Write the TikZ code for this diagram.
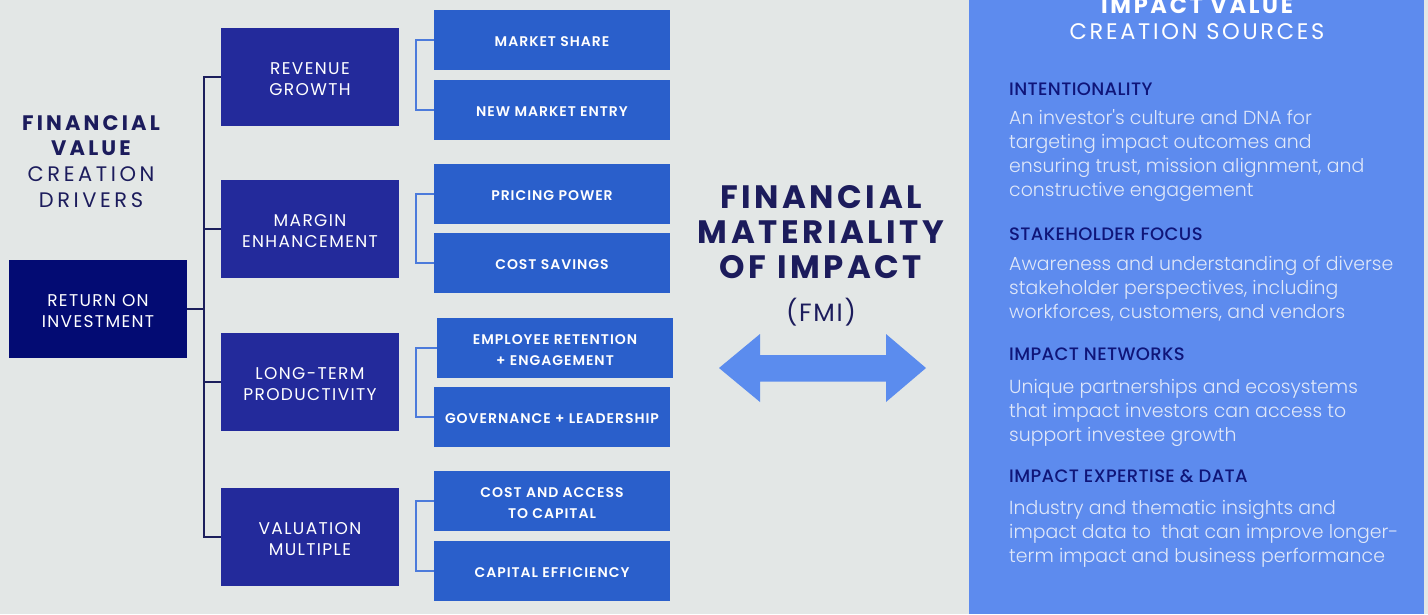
\documentclass[tikz,border=0pt]{standalone}
\usepackage{fontspec}
\usetikzlibrary{calc}
\setmainfont{Poppins}
\newcommand\pickfont[3]{\IfFontExistsTF{#2}{\newfontfamily#1{#2}[#3]}{\newfontfamily#1{Poppins}[#3]}}
\pickfont\fLight{Poppins Light}{LetterSpace=0}
\pickfont\fMed{Poppins Medium}{LetterSpace=2}
\pickfont\fSemi{Poppins SemiBold}{LetterSpace=7}
\newfontfamily\fTB{Poppins}[LetterSpace=15]
\newfontfamily\fTR{Poppins}[LetterSpace=17]
\newfontfamily\fBoxR{Poppins}[LetterSpace=8]
\newfontfamily\fHdr{Poppins}[LetterSpace=12]
\newfontfamily\fFmi{Poppins}[LetterSpace=11]
\newfontfamily\fFmiR{Poppins}[LetterSpace=7]
\newcommand\bigstrut{\rule{0pt}{16pt}}
\newcommand\smallstrut{\rule{0pt}{13.5pt}}
\definecolor{bgC}{HTML}{E3E7E6}
\definecolor{roiC}{HTML}{030B73}
\definecolor{drvC}{HTML}{232A9B}
\definecolor{subC}{HTML}{2A5FCB}
\definecolor{panelC}{HTML}{5D8BEE}
\definecolor{arrowC}{HTML}{5B8CEE}
\definecolor{titleC}{HTML}{1C1C5C}
\definecolor{headC}{HTML}{0F1579}
\definecolor{bodyC}{HTML}{DFE7F9}
\definecolor{lineD}{HTML}{1C1F5C}
\definecolor{lineL}{HTML}{4C7BDB}
\tikzset{
  roibox/.style={fill=roiC, minimum width=178pt, minimum height=98pt, inner sep=0pt,
    text=white, align=center, font=\fBoxR\fontsize{17}{20.5}\selectfont},
  drvbox/.style={roibox, fill=drvC},
  subbox/.style={fill=subC, minimum width=236pt, minimum height=60pt, inner sep=0pt,
    text=white, align=center, font=\fSemi\fontsize{14}{20.7}\selectfont,
    execute at begin node={\rule{0pt}{12.3pt}}},
  mainline/.style={draw=lineD, line width=1.5pt},
  subline/.style={draw=lineL, line width=1.5pt},
  lefttitle/.style={text=titleC, align=center, anchor=base, inner sep=0pt,
    font=\fontsize{21}{25.7}\selectfont},
  fmititle/.style={text=titleC, align=center, anchor=base, inner sep=0pt,
    font=\fFmi\bfseries\fontsize{32.4}{34.7}\selectfont},
  fmisub/.style={text=titleC, anchor=base, inner sep=0pt,
    font=\fFmiR\fontsize{25}{30}\selectfont},
  hdr/.style={text=white, align=center, anchor=base, inner sep=0pt,
    font=\fHdr\fontsize{22.5}{26}\selectfont},
  headtext/.style={text=headC, anchor=base west, inner sep=0pt,
    font=\fMed\fontsize{18}{24}\selectfont},
  bodytext/.style={text=bodyC, anchor=base west, align=left, inner sep=0pt,
    font=\fLight\fontsize{18.9}{24}\selectfont},
}
\begin{document}
\begin{tikzpicture}[x=1pt, y=-1pt]
\useasboundingbox (0,0) rectangle (1428,614);
\fill[bgC] (0,0) rectangle (1428,614);
\fill[panelC] (969,0) rectangle (1424,614);

% left title (base = baseline of the last line)
\node[lefttitle] (ltitle) at (91,207.3)
  {{\fTB\bfseries FINANCIAL}\\{\fTB\bfseries VALUE}\\{\fTR CREATION}\\{\fTR DRIVERS}};

% boxes
\node[roibox] (roi) at (98,309) {\bigstrut RETURN ON\\INVESTMENT};
\node[drvbox] (rg) at (310,77) {\bigstrut REVENUE\\GROWTH};
\node[drvbox] (me) at (310,229) {\bigstrut MARGIN\\ENHANCEMENT};
\node[drvbox] (lp) at (310,382) {\bigstrut LONG-TERM\\PRODUCTIVITY};
\node[drvbox] (vm) at (310,537) {\bigstrut VALUATION\\MULTIPLE};
\node[subbox] (ms) at (552,40) {MARKET SHARE};
\node[subbox] (nm) at (552,110) {NEW MARKET ENTRY};
\node[subbox] (pp) at (552,194) {PRICING POWER};
\node[subbox] (cs) at (552,263) {COST SAVINGS};
\node[subbox] (er) at (555,348) {\smallstrut EMPLOYEE RETENTION\\+ ENGAGEMENT};
\node[subbox] (gl) at (552,417) {GOVERNANCE + LEADERSHIP};
\node[subbox] (ca) at (552,501) {\smallstrut COST AND ACCESS\\TO CAPITAL};
\node[subbox] (ce) at (552,571) {CAPITAL EFFICIENCY};

% trunk connectors
\coordinate (tx) at (204,0);
\coordinate (bx) at (416,0);
\draw[mainline] (rg.west) -- (rg.west -| tx) -- (vm.west -| tx) -- (vm.west);
\draw[mainline] (me.west) -- (me.west -| tx);
\draw[mainline] (lp.west) -- (lp.west -| tx);
\draw[mainline] (roi.east) -- (roi.east -| tx);

% branch connectors
\draw[subline] (ms.west) -- (ms.west -| bx) -- (nm.west -| bx) -- (nm.west);
\draw[subline] ($(ms.west)!0.5!(nm.west)$ -| rg.east) -- ($(ms.west)!0.5!(nm.west)$ -| bx);
\draw[subline] (pp.west) -- (pp.west -| bx) -- (cs.west -| bx) -- (cs.west);
\draw[subline] ($(pp.west)!0.5!(cs.west)$ -| me.east) -- ($(pp.west)!0.5!(cs.west)$ -| bx);
\draw[subline] (er.west) -- (er.west -| bx) -- (gl.west -| bx) -- (gl.west);
\draw[subline] ($(er.west)!0.5!(gl.west)$ -| lp.east) -- ($(er.west)!0.5!(gl.west)$ -| bx);
\draw[subline] (ca.west) -- (ca.west -| bx) -- (ce.west -| bx) -- (ce.west);
\draw[subline] ($(ca.west)!0.5!(ce.west)$ -| vm.east) -- ($(ca.west)!0.5!(ce.west)$ -| bx);

% FMI
\node[fmititle] (fmi) at (821,278.3) {FINANCIAL\\MATERIALITY\\OF IMPACT};
\node[fmisub] (fmiabbr) at (821,321) {(FMI)};
\fill[arrowC] (719,368) -- (760,334) -- (760,355) -- (886,355) -- (886,334) -- (926,368)
  -- (886,402) -- (886,381.5) -- (760,381.5) -- (760,402) -- cycle;

% right panel
\node[hdr] (hdr) at (1197,39.3) {{\bfseries IMPACT VALUE}\\CREATION SOURCES};
\node[headtext] (h1) at (1009,95) {INTENTIONALITY};
\node[bodytext] (b1) at (1009,196) {An investor's culture and DNA for\\targeting impact outcomes and\\ensuring trust, mission alignment, and\\constructive engagement};
\node[headtext] (h2) at (1009,240.7) {STAKEHOLDER FOCUS};
\node[bodytext] (b2) at (1009,318) {Awareness and understanding of diverse\\stakeholder perspectives, including\\workforces, customers, and vendors};
\node[headtext] (h3) at (1009,360.7) {IMPACT NETWORKS};
\node[bodytext] (b3) at (1009,441.3) {Unique partnerships and ecosystems\\that impact investors can access to\\support investee growth};
\node[headtext] (h4) at (1009,482.3) {IMPACT EXPERTISE \& DATA};
\node[bodytext] (b4) at (1009,562.3) {Industry and thematic insights and\\impact data to\ \ that can improve longer-\\term impact and business performance};
\end{tikzpicture}
\end{document}
